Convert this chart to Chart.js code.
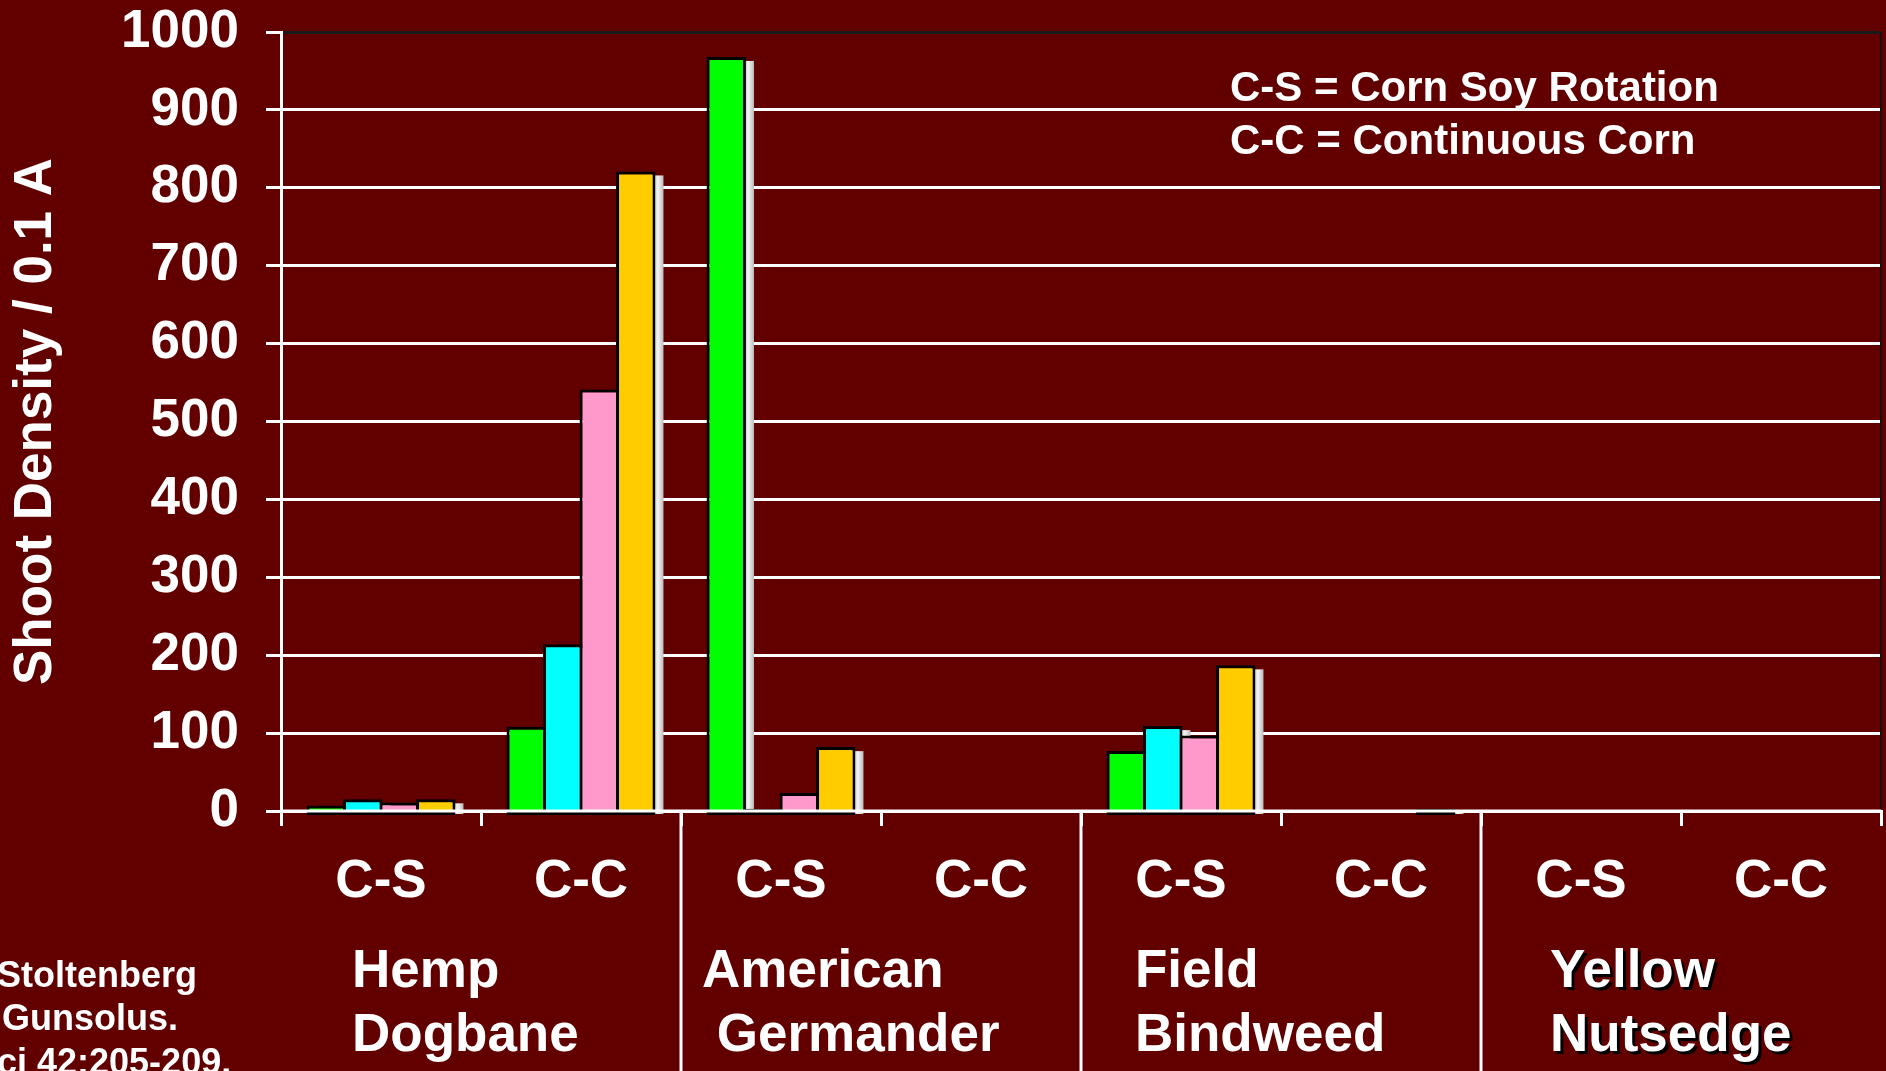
<!DOCTYPE html>
<html>
<head>
<meta charset="utf-8">
<script src="https://cdn.jsdelivr.net/npm/chart.js@4.4.1/dist/chart.umd.min.js"></script>
<style>
  html, body { margin: 0; padding: 0; background: #620000; }
  #wrap { width: 1886px; height: 1071px; position: relative; overflow: hidden; }
</style>
</head>
<body>
<div id="wrap"><canvas id="c" width="1886" height="1071"></canvas></div>
<script>
// Tillage system per bar cluster
const categories = ['C-S', 'C-C', 'C-S', 'C-C', 'C-S', 'C-C', 'C-S', 'C-C'];

// Shoot density per 0.1 A, four sampling series
const greenValues = [7, 108, 968, 0, 77, 0, 0, 0];
const cyanValues  = [15, 214, 3, 0, 109, 0, 0, 0];
const pinkValues  = [11, 541, 23, 0, 97, 0, 0, 0];
const goldValues  = [15, 821, 82, 0, 187, 3, 0, 0];

// Weed species, one per pair of clusters
const speciesLabels = [
  ['Hemp', 'Dogbane'],
  ['American', ' Germander'],
  ['Field', 'Bindweed'],
  ['Yellow', 'Nutsedge']
];

const yTicks = { min: 0, max: 1000, step: 100 };
const yTitle = 'Shoot Density / 0.1 A';
const keyLines = ['C-S = Corn Soy Rotation', 'C-C = Continuous Corn'];
const citationLines = ['Stoltenberg', 'Gunsolus.', 'ci 42:205-209.'];

const FONT = '"Liberation Sans", Arial, Helvetica, sans-serif';

// Light drop shadow behind every bar
const barShadow = {
  id: 'barShadow',
  beforeDatasetsDraw(chart) {
    const ctx = chart.ctx;
    const y0 = chart.scales.y.getPixelForValue(0);
    ctx.save();
    chart.data.datasets.forEach((ds, di) => {
      const meta = chart.getDatasetMeta(di);
      meta.data.forEach((bar, i) => {
        if (!ds.data[i]) return;
        const p = bar.getProps(['x', 'y', 'width'], true);
        const dx = 8, dy = 4;
        const left = p.x - p.width / 2 + dx;
        const right = left + p.width;
        const g = ctx.createLinearGradient(right - 10, 0, right, 0);
        g.addColorStop(0, '#c8c8c8');
        g.addColorStop(0.45, '#f4f4f4');
        g.addColorStop(1, '#bcbcbc');
        ctx.fillStyle = g;
        ctx.fillRect(left, p.y + dy, p.width, y0 + 3 - p.y - dy);
      });
    });
    ctx.restore();
  },
  afterDatasetsDraw(chart) {
    // zero line runs across the foot of the bars
    const ctx = chart.ctx;
    const area = chart.chartArea;
    const y0 = chart.scales.y.getPixelForValue(0);
    ctx.save();
    ctx.strokeStyle = '#ffffff';
    ctx.lineWidth = 3;
    ctx.beginPath();
    ctx.moveTo(area.left, y0);
    ctx.lineTo(area.right, y0);
    ctx.stroke();
    ctx.restore();
  }
};

// Frame, group separators and free text
const decorations = {
  id: 'decorations',
  afterDraw(chart) {
    const ctx = chart.ctx;
    const area = chart.chartArea;
    const xs = chart.scales.x;
    ctx.save();

    // dark frame on the right edge of the plot
    ctx.strokeStyle = '#111';
    ctx.lineWidth = 2;
    ctx.beginPath();
    ctx.moveTo(area.right, area.top);
    ctx.lineTo(area.right, area.bottom - 2);
    ctx.stroke();

    // long separators between species groups
    const half = (xs.getPixelForValue(1) - xs.getPixelForValue(0)) / 2;
    ctx.strokeStyle = '#ffffff';
    ctx.lineWidth = 3;
    for (let g = 1; g < speciesLabels.length; g++) {
      const x = Math.round(xs.getPixelForValue(g * 2) - half);
      ctx.beginPath();
      ctx.moveTo(x, area.bottom);
      ctx.lineTo(x, chart.height);
      ctx.stroke();
    }

    // species names under each pair of clusters
    const insets = [71, 21, 54, 69];
    ctx.font = 'bold 53px ' + FONT;
    ctx.textAlign = 'left';
    ctx.textBaseline = 'alphabetic';
    speciesLabels.forEach((lines, g) => {
      const left = xs.getPixelForValue(g * 2) - half + insets[g];
      lines.forEach((t, k) => {
        const y = 987 + k * 64;
        if (g === 3) {
          ctx.fillStyle = '#000';
          ctx.fillText(t, left + 3, y + 3);
        }
        ctx.fillStyle = '#ffffff';
        ctx.fillText(t, left, y);
      });
    });

    // key for the tillage abbreviations
    ctx.font = 'bold 42px ' + FONT;
    ctx.fillStyle = '#ffffff';
    keyLines.forEach((t, k) => ctx.fillText(t, 1230, 101 + k * 53));

    // source note
    ctx.font = 'bold 36px ' + FONT;
    ctx.fillText(citationLines[0], -3, 987);
    ctx.fillText(citationLines[1], 2, 1030);
    ctx.fillText(citationLines[2], -3, 1074);

    ctx.restore();
  }
};

// bars sit slightly below the axis line; empty cells draw nothing
const mkSet = (label, data, color) => ({
  label, data,
  base: -5,
  clip: false,
  backgroundColor: c => (c.raw ? color : 'rgba(0,0,0,0)'),
  borderColor: c => (c.raw ? '#000000' : 'rgba(0,0,0,0)'),
  borderWidth: c => (c.raw ? 3 : 0),
  borderSkipped: false,
  barPercentage: 1.08,
  categoryPercentage: 0.73
});

new Chart(document.getElementById('c'), {
  type: 'bar',
  data: {
    labels: categories,
    datasets: [
      mkSet('Series 1', greenValues, '#00ff00'),
      mkSet('Series 2', cyanValues, '#00ffff'),
      mkSet('Series 3', pinkValues, '#ff99cc'),
      mkSet('Series 4', goldValues, '#ffcc00')
    ]
  },
  options: {
    responsive: false,
    animation: false,
    layout: { padding: { top: 32, right: 5, left: 0, bottom: 0 } },
    plugins: { legend: { display: false }, tooltip: { enabled: false } },
    scales: {
      x: {
        afterFit(s) { s.height = 260; s.paddingLeft = 0; s.paddingRight = 0; },
        grid: {
          offset: true,
          drawOnChartArea: false,
          drawTicks: true,
          tickLength: 15,
          color: '#ffffff',
          lineWidth: 3
        },
        border: { color: '#ffffff', width: 3 },
        ticks: {
          color: '#ffffff',
          font: { family: FONT, size: 53, weight: 'bold' },
          padding: 25,
          autoSkip: false,
          maxRotation: 0
        }
      },
      y: {
        min: yTicks.min,
        max: yTicks.max,
        afterFit(s) { s.width = 281; s.paddingTop = 0; s.paddingBottom = 0; },
        grid: {
          color: c => (c.tick && c.tick.value === yTicks.max) ? '#1a1a1a' : '#ffffff',
          tickColor: '#ffffff',
          lineWidth: 3,
          tickLength: 15
        },
        border: { color: '#ffffff', width: 3 },
        ticks: {
          stepSize: yTicks.step,
          color: '#ffffff',
          font: { family: FONT, size: 53, weight: 'bold' },
          padding: 27,
          callback: v => String(v)
        },
        title: {
          display: true,
          text: yTitle,
          color: '#ffffff',
          font: { family: FONT, size: 53, weight: 'bold' },
          padding: { top: 5, bottom: 0 }
        }
      }
    }
  },
  plugins: [barShadow, decorations]
});
</script>
</body>
</html>
